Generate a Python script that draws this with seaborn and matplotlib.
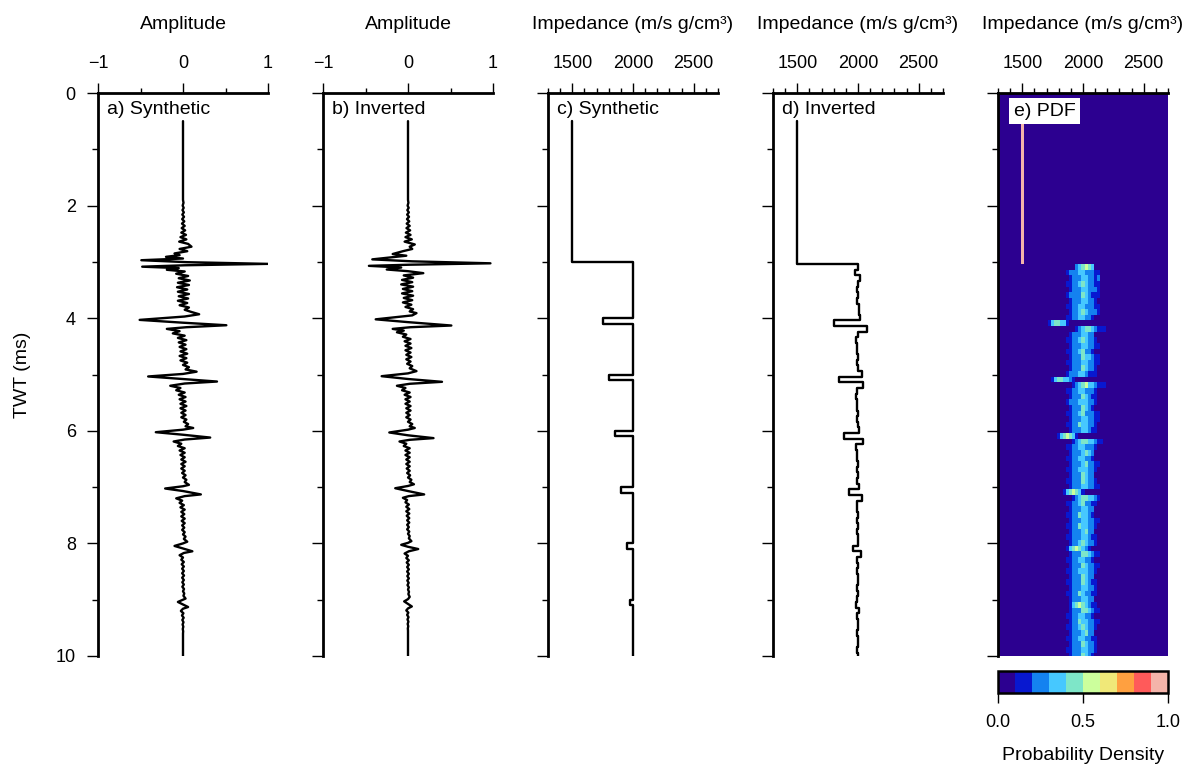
import matplotlib
matplotlib.use("Agg")
import matplotlib.pyplot as plt
from matplotlib.colors import ListedColormap, BoundaryNorm
import numpy as np
import seaborn as sns

# seismic traces: (two-way time in ms, amplitude)
syn_trace = [
    (0.50, 0.00), (1.90, 0.00), (1.95, 0.006), (2.00, -0.004), (2.04, 0.008), (2.08, -0.006),
    (2.12, 0.01), (2.16, -0.008), (2.20, 0.012), (2.24, -0.01), (2.28, 0.015), (2.32, -0.012),
    (2.36, 0.02), (2.40, -0.015), (2.44, 0.025), (2.48, -0.02), (2.52, 0.035), (2.56, -0.03),
    (2.60, 0.04), (2.64, -0.045), (2.68, 0.06), (2.73, 0.10), (2.77, -0.04), (2.81, 0.05),
    (2.85, -0.10), (2.88, -0.04), (2.91, -0.20), (2.94, 0.00), (2.97, -0.49), (3.005, 0.05),
    (3.035, 1.00), (3.06, 0.02), (3.085, -0.48), (3.11, -0.05), (3.14, -0.19), (3.17, 0.02),
    (3.21, -0.08), (3.25, 0.06), (3.29, -0.05), (3.33, 0.08), (3.37, -0.06), (3.41, 0.07),
    (3.45, -0.07), (3.49, 0.05), (3.53, -0.06), (3.57, 0.07), (3.61, -0.05), (3.65, 0.06),
    (3.69, -0.06), (3.73, 0.05), (3.77, -0.04), (3.81, 0.07), (3.85, 0.02), (3.89, 0.10),
    (3.93, 0.19), (3.97, 0.02), (4.03, -0.51), (4.08, 0.00), (4.125, 0.51), (4.16, 0.04),
    (4.19, -0.19), (4.23, -0.04), (4.27, -0.12), (4.31, 0.02), (4.35, -0.06), (4.39, 0.04),
    (4.43, -0.05), (4.47, 0.03), (4.51, -0.04), (4.55, 0.04), (4.59, -0.03), (4.63, 0.05),
    (4.67, -0.04), (4.71, 0.04), (4.75, -0.03), (4.79, 0.05), (4.83, 0.00), (4.87, 0.07),
    (4.91, 0.03), (4.95, 0.16), (4.99, 0.00), (5.035, -0.41), (5.08, 0.00), (5.125, 0.40),
    (5.16, 0.02), (5.20, -0.15), (5.24, -0.03), (5.28, -0.08), (5.32, 0.02), (5.36, -0.05),
    (5.40, 0.03), (5.44, -0.04), (5.48, 0.03), (5.52, -0.03), (5.56, 0.04), (5.60, -0.03),
    (5.64, 0.03), (5.68, -0.02), (5.72, 0.03), (5.76, -0.02), (5.80, 0.04), (5.84, 0.01),
    (5.88, 0.06), (5.92, 0.03), (5.95, 0.12), (5.98, 0.00), (6.025, -0.32), (6.07, 0.00),
    (6.12, 0.32), (6.155, 0.02), (6.19, -0.11), (6.23, -0.02), (6.27, -0.06), (6.31, 0.02),
    (6.35, -0.04), (6.39, 0.02), (6.43, -0.03), (6.47, 0.02), (6.51, -0.02), (6.55, 0.03),
    (6.59, -0.02), (6.63, 0.02), (6.67, -0.02), (6.71, 0.02), (6.75, -0.01), (6.79, 0.03),
    (6.83, 0.00), (6.87, 0.04), (6.91, 0.02), (6.96, 0.07), (6.985, 0.00), (7.025, -0.21),
    (7.07, 0.00), (7.13, 0.21), (7.16, 0.02), (7.20, -0.08), (7.24, -0.01), (7.28, -0.04),
    (7.32, 0.01), (7.36, -0.03), (7.40, 0.02), (7.44, -0.02), (7.48, 0.015), (7.52, -0.02),
    (7.56, 0.02), (7.60, -0.015), (7.64, 0.02), (7.68, -0.01), (7.72, 0.015), (7.76, -0.01),
    (7.80, 0.02), (7.84, 0.00), (7.88, 0.03), (7.92, 0.01), (7.97, 0.05), (8.00, 0.00),
    (8.045, -0.10), (8.09, 0.00), (8.14, 0.11), (8.17, 0.01), (8.21, -0.04), (8.25, 0.00),
    (8.29, -0.02), (8.33, 0.01), (8.37, -0.015), (8.41, 0.01), (8.45, -0.01), (8.49, 0.01),
    (8.53, -0.01), (8.57, 0.012), (8.61, -0.01), (8.65, 0.01), (8.69, -0.008), (8.73, 0.01),
    (8.77, -0.008), (8.81, 0.012), (8.85, 0.00), (8.89, 0.015), (8.93, 0.005), (8.98, 0.03),
    (9.00, 0.00), (9.04, -0.06), (9.085, 0.00), (9.13, 0.06), (9.16, 0.00), (9.20, -0.025),
    (9.24, 0.005), (9.28, -0.012), (9.32, 0.008), (9.36, -0.008), (9.40, 0.006), (9.44, -0.005),
    (9.48, 0.004), (9.52, -0.003), (9.56, 0.002), (9.60, 0.00), (10.00, 0.00),
]

inv_trace = [
    (0.50, 0.00), (1.90, 0.00), (1.95, 0.005), (2.00, -0.005), (2.04, 0.008), (2.08, -0.008),
    (2.12, 0.01), (2.16, -0.01), (2.20, 0.012), (2.24, -0.012), (2.28, 0.015), (2.32, -0.015),
    (2.36, 0.02), (2.40, -0.018), (2.44, 0.025), (2.48, -0.025), (2.52, 0.03), (2.56, -0.03),
    (2.60, 0.045), (2.64, -0.04), (2.69, 0.08), (2.73, 0.02), (2.77, 0.05), (2.81, -0.06),
    (2.86, -0.18), (2.89, -0.02), (2.955, -0.42), (2.99, 0.05), (3.025, 0.97), (3.05, 0.02),
    (3.07, -0.46), (3.10, -0.08), (3.135, -0.25), (3.165, 0.00), (3.20, 0.18), (3.24, -0.05),
    (3.28, 0.06), (3.32, -0.07), (3.36, 0.05), (3.40, -0.08), (3.44, 0.06), (3.48, -0.06),
    (3.52, 0.05), (3.56, -0.07), (3.60, 0.06), (3.64, -0.05), (3.68, 0.05), (3.72, -0.06),
    (3.76, 0.04), (3.80, -0.03), (3.84, 0.06), (3.88, 0.02), (3.91, 0.10), (3.95, 0.05),
    (4.02, -0.38), (4.07, 0.00), (4.13, 0.51), (4.16, 0.03), (4.19, -0.18), (4.22, -0.05),
    (4.25, -0.13), (4.29, -0.02), (4.33, -0.06), (4.37, 0.03), (4.41, -0.04), (4.45, 0.03),
    (4.49, -0.03), (4.53, 0.04), (4.57, -0.03), (4.61, 0.03), (4.65, -0.02), (4.69, 0.04),
    (4.73, -0.02), (4.77, 0.03), (4.81, -0.01), (4.85, 0.05), (4.89, 0.02), (4.94, 0.10),
    (4.98, 0.00), (5.03, -0.31), (5.08, 0.00), (5.13, 0.40), (5.165, 0.02), (5.20, -0.13),
    (5.24, -0.03), (5.28, -0.07), (5.32, 0.02), (5.36, -0.04), (5.40, 0.03), (5.44, -0.03),
    (5.48, 0.02), (5.52, -0.03), (5.56, 0.03), (5.60, -0.02), (5.64, 0.03), (5.68, -0.02),
    (5.72, 0.02), (5.76, -0.02), (5.80, 0.03), (5.84, 0.00), (5.88, 0.05), (5.92, 0.02),
    (5.95, 0.08), (5.98, 0.00), (6.03, -0.22), (6.08, 0.00), (6.13, 0.30), (6.16, 0.02),
    (6.19, -0.10), (6.23, -0.02), (6.27, -0.05), (6.31, 0.02), (6.35, -0.03), (6.39, 0.02),
    (6.43, -0.03), (6.47, 0.02), (6.51, -0.02), (6.55, 0.02), (6.59, -0.02), (6.63, 0.02),
    (6.67, -0.015), (6.71, 0.02), (6.75, -0.01), (6.79, 0.025), (6.83, 0.00), (6.87, 0.04),
    (6.91, 0.02), (6.95, 0.07), (6.98, 0.00), (7.02, -0.15), (7.07, 0.00), (7.13, 0.19),
    (7.16, 0.01), (7.19, -0.06), (7.23, -0.01), (7.27, -0.03), (7.31, 0.01), (7.35, -0.02),
    (7.39, 0.015), (7.43, -0.02), (7.47, 0.015), (7.51, -0.015), (7.55, 0.015), (7.59, -0.01),
    (7.63, 0.015), (7.67, -0.01), (7.71, 0.01), (7.75, -0.01), (7.79, 0.015), (7.83, 0.00),
    (7.87, 0.02), (7.91, 0.01), (7.96, 0.04), (7.99, 0.00), (8.025, -0.08), (8.06, 0.00),
    (8.10, 0.12), (8.14, 0.01), (8.18, -0.04), (8.22, 0.00), (8.26, -0.02), (8.30, 0.01),
    (8.34, -0.015), (8.38, 0.01), (8.42, -0.01), (8.46, 0.01), (8.50, -0.01), (8.54, 0.01),
    (8.58, -0.008), (8.62, 0.01), (8.66, -0.008), (8.70, 0.008), (8.74, -0.006), (8.78, 0.01),
    (8.82, 0.00), (8.86, 0.012), (8.90, 0.004), (8.95, 0.02), (8.99, 0.00), (9.03, -0.045),
    (9.075, 0.00), (9.12, 0.045), (9.155, 0.00), (9.19, -0.02), (9.23, 0.004), (9.27, -0.01),
    (9.31, 0.006), (9.35, -0.006), (9.39, 0.005), (9.43, -0.004), (9.47, 0.003), (9.51, -0.002),
    (9.55, 0.00), (10.00, 0.00),
]

# impedance layers: top time (ms) and impedance (m/s g/cm3)
syn_layer_top = [0.5, 3.0, 4.0, 4.1, 5.0, 5.1, 6.0, 6.1, 7.0, 7.1, 8.0, 8.1, 9.0, 9.1]
syn_layer_imp = [1500, 2000, 1750, 2000, 1800, 2000, 1850, 2000, 1900, 2000, 1950, 2000, 1975, 2000]

inv_layer_top = [
    0.50, 3.04, 3.14, 3.24, 3.34, 3.44, 3.54, 3.64, 3.74, 3.84, 3.94,
    4.04, 4.14, 4.24, 4.34, 4.44, 4.54, 4.64, 4.74, 4.84, 4.94,
    5.04, 5.14, 5.24, 5.34, 5.44, 5.54, 5.64, 5.74, 5.84, 5.94,
    6.04, 6.14, 6.24, 6.34, 6.44, 6.54, 6.64, 6.74, 6.84, 6.94,
    7.04, 7.14, 7.24, 7.34, 7.44, 7.54, 7.64, 7.74, 7.84, 7.94,
    8.04, 8.14, 8.24, 8.34, 8.44, 8.54, 8.64, 8.74, 8.84, 8.94,
    9.04, 9.14, 9.24, 9.34, 9.44, 9.54, 9.64, 9.74, 9.84, 9.94,
]
inv_layer_imp = [
    1500, 2000, 1975, 2015, 2000, 1995, 2000, 1995, 2005, 2010, 2020,
    1800, 2075, 2000, 1985, 1990, 1995, 2000, 1990, 2000, 2030,
    1845, 2045, 1990, 1985, 1995, 1990, 2000, 1995, 2000, 2010,
    1885, 2040, 1985, 1990, 1995, 2000, 1995, 2000, 1995, 2005,
    1925, 2030, 1990, 1995, 2000, 1995, 2000, 1995, 2000, 2000,
    1960, 2025, 1995, 2000, 1995, 2000, 2000, 1995, 2000, 1990,
    1985, 2010, 1995, 2000, 2000, 1995, 2000, 2000, 1995, 2000,
]

# posterior PDF rows: (top time, first impedance bin, density level 0-9 per 25-unit bin)
water_pdf = (0.5, 1500, "9")
pdf_rows = [
    (3.04, 1950, "234543"), (3.14, 1875, "12223322211"), (3.24, 1900, "1222332212"),
    (3.34, 1875, "11223432211"), (3.44, 1900, "1222332221"), (3.54, 1875, "12222432111"),
    (3.64, 1900, "122233221"), (3.74, 1875, "11223322211"), (3.84, 1900, "1223432221"),
    (3.94, 1875, "112233221"), (4.04, 1725, "1344331"), (4.14, 1950, "1234432111"),
    (4.24, 1900, "12223322"), (4.34, 1875, "1122343221"), (4.44, 1900, "1222332211"),
    (4.54, 1875, "112234221"), (4.64, 1900, "1222433211"), (4.74, 1875, "11222332211"),
    (4.84, 1900, "122243221"), (4.94, 1875, "1222332111"), (5.04, 1750, "13443321"),
    (5.14, 1925, "12345332111"), (5.24, 1875, "1122332221"), (5.34, 1900, "122243211"),
    (5.44, 1875, "1222333221"), (5.54, 1900, "12224321"), (5.64, 1875, "11223422211"),
    (5.74, 1900, "1222332211"), (5.84, 1875, "1122433221"), (5.94, 1900, "122233211"),
    (6.04, 1800, "1345431"), (6.14, 1925, "1234433211"), (6.24, 1875, "1122332221"),
    (6.34, 1900, "12223432"), (6.44, 1875, "112233221"), (6.54, 1900, "1222342211"),
    (6.64, 1875, "1122333221"), (6.74, 1900, "12224322"), (6.84, 1875, "1122243221"),
    (6.94, 1900, "1222332211"), (7.04, 1850, "1345431"), (7.14, 1925, "123443321"),
    (7.24, 1875, "1122342211"), (7.34, 1900, "12223322"), (7.44, 1875, "112243321"),
    (7.54, 1900, "1222332211"), (7.64, 1875, "1122433221"), (7.74, 1900, "12223422"),
    (7.84, 1875, "1122233211"), (7.94, 1900, "122343221"), (8.04, 1875, "13454321"),
    (8.14, 1900, "1222443211"), (8.24, 1875, "112233221"), (8.34, 1900, "1222432211"),
    (8.44, 1875, "1122333221"), (8.54, 1900, "12224322"), (8.64, 1875, "1122243211"),
    (8.74, 1900, "122233221"), (8.84, 1875, "1122432211"), (8.94, 1900, "12223322"),
    (9.04, 1900, "134543211"), (9.14, 1900, "1222443211"), (9.24, 1875, "112233221"),
    (9.34, 1900, "1224332211"), (9.44, 1875, "1122343221"), (9.54, 1900, "12223422"),
    (9.64, 1875, "1122332211"), (9.74, 1900, "122243221"), (9.84, 1875, "1122233221"),
    (9.94, 1900, "12224321"),
]

pdf_colors = ["#2c0090", "#0818d0", "#1482f0", "#46c8ff", "#7ee6c8",
              "#ccff9c", "#f0e878", "#ffa040", "#ff5a5a", "#f4b4aa"]

amp_ticks = [-1, 0, 1]
imp_ticks = [1500, 2000, 2500]
twt_ticks = [0, 2, 4, 6, 8, 10]

sns.set_theme(style="ticks")
plt.rcParams["font.family"] = ["Liberation Sans", "DejaVu Sans"]
plt.rcParams["axes.edgecolor"] = "black"
plt.rcParams["xtick.color"] = "black"
plt.rcParams["ytick.color"] = "black"
plt.rcParams["text.color"] = "black"
plt.rcParams["axes.labelcolor"] = "black"

W, H = 1189, 769
fig = plt.figure(figsize=(W / 100, H / 100), dpi=100)
lefts = [98, 323, 548, 773, 998]
axes = [fig.add_axes([l / W, (H - 656) / H, 170 / W, 563 / H]) for l in lefts]


def step_profile(tops, vals, bottom=10.0):
    xs, ys = [], []
    for i, (t, v) in enumerate(zip(tops, vals)):
        b = tops[i + 1] if i + 1 < len(tops) else bottom
        xs += [v, v]
        ys += [t, b]
    return xs, ys


def style_axis(ax, xlim, major, minor, xlabel, show_y):
    ax.set_xlim(*xlim)
    ax.set_ylim(10, 0)
    ax.xaxis.tick_top()
    ax.xaxis.set_label_position("top")
    ax.set_xticks(major)
    ax.set_xticks(minor, minor=True)
    ax.set_yticks(twt_ticks)
    ax.set_yticks([1, 3, 5, 7, 9], minor=True)
    ax.set_xlabel(xlabel, fontsize=14, labelpad=19)
    for side in ["right", "bottom"]:
        ax.spines[side].set_visible(False)
    for side in ["left", "top"]:
        ax.spines[side].set_linewidth(2.0)
        ax.spines[side].set_zorder(5)
    ax.tick_params(axis="x", which="major", length=7, width=1, pad=8, labelsize=13)
    ax.tick_params(axis="x", which="minor", length=3.5, width=1)
    ax.tick_params(axis="y", which="major", length=8, width=1, pad=8, labelsize=13)
    ax.tick_params(axis="y", which="minor", length=4, width=1)
    if show_y:
        ax.set_ylabel("TWT (ms)", fontsize=14, labelpad=18)
    else:
        ax.set_ylabel("")
        ax.tick_params(axis="y", labelleft=False)
    ax.grid(False)


def panel_label(ax, text, boxed=False):
    kw = dict(transform=ax.transAxes, ha="left", va="top", fontsize=14, zorder=6)
    if boxed:
        kw["bbox"] = dict(boxstyle="square,pad=0.22", fc="white", ec="none")
        ax.text(0.092, 0.983, text, **kw)
    else:
        ax.text(0.052, 0.986, text, **kw)


# a) and b) seismic traces
for ax, trace, label in [(axes[0], syn_trace, "a) Synthetic"), (axes[1], inv_trace, "b) Inverted")]:
    t = [p[0] for p in trace]
    a = [p[1] for p in trace]
    sns.lineplot(x=a, y=t, ax=ax, sort=False, estimator=None, color="black", linewidth=1.7)
    style_axis(ax, (-1, 1), amp_ticks, [-0.5, 0.5], "Amplitude", ax is axes[0])
    panel_label(ax, label)

# c) and d) impedance profiles
imp_label = "Impedance (m/s g/cm\u00b3)"
imp_minor = [v for v in range(1300, 2701, 100) if v not in imp_ticks]
for ax, tops, vals, label in [(axes[2], syn_layer_top, syn_layer_imp, "c) Synthetic"),
                              (axes[3], inv_layer_top, inv_layer_imp, "d) Inverted")]:
    xs, ys = step_profile(tops, vals)
    sns.lineplot(x=xs, y=ys, ax=ax, sort=False, estimator=None, color="black", linewidth=1.7)
    style_axis(ax, (1300, 2700), imp_ticks, imp_minor, imp_label, False)
    panel_label(ax, label)

# e) PDF image
ax = axes[4]
imp_centers = np.arange(1300, 2701, 25)
x_edges = np.append(imp_centers - 12.5, imp_centers[-1] + 12.5)
row_defs = [(0.0, 1300, "0"), water_pdf] + pdf_rows
y_edges = [r[0] for r in row_defs] + [10.0]
levels = np.zeros((len(row_defs), len(imp_centers)))
for i, (_, start, codes) in enumerate(row_defs):
    j0 = int(round((start - imp_centers[0]) / 25))
    for k, c in enumerate(codes):
        levels[i, j0 + k] = int(c)
density = levels / 10 + 0.05

cmap = ListedColormap(pdf_colors)
norm = BoundaryNorm(np.linspace(0, 1, 11), cmap.N)
mesh = ax.pcolormesh(x_edges, y_edges, density, cmap=cmap, norm=norm, zorder=1)
style_axis(ax, (1300, 2700), imp_ticks, imp_minor, imp_label, False)
panel_label(ax, "e) PDF", boxed=True)

cax = fig.add_axes([998 / W, (H - 693) / H, 170 / W, 22 / H])
cb = fig.colorbar(mesh, cax=cax, orientation="horizontal", ticks=[0, 0.5, 1.0])
cb.ax.set_xticklabels(["0.0", "0.5", "1.0"])
cb.outline.set_linewidth(1.8)
cb.outline.set_edgecolor("black")
cax.tick_params(axis="x", length=7, width=1, pad=8, labelsize=13, color="black")
cax.minorticks_off()
cb.set_label("Probability Density", fontsize=14, labelpad=12)

fig.savefig("out.png", dpi=100)
